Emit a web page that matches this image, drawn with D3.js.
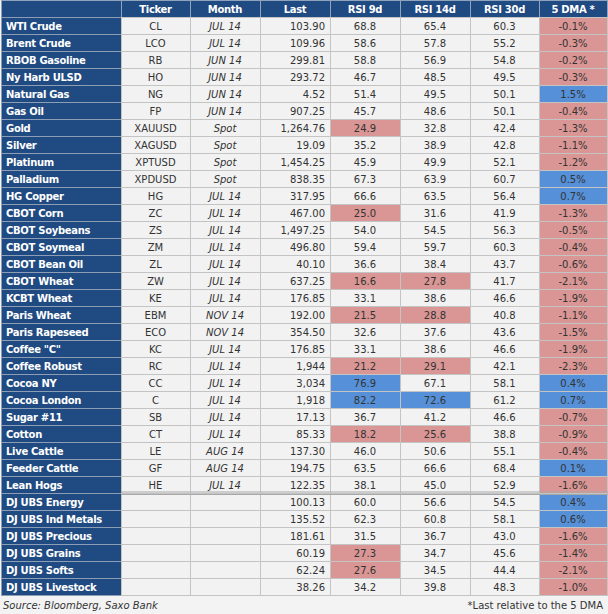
<!DOCTYPE html>
<html><head><meta charset="utf-8">
<script src="https://cdn.jsdelivr.net/npm/d3@7/dist/d3.min.js"></script>
<style>
html,body{margin:0;padding:0;background:#f3f3f3;}
svg{display:block;}
text{font-family:"DejaVu Sans",Verdana,sans-serif;}
</style></head><body>
<script>
const headers = ["", "Ticker", "Month", "Last", "RSI 9d", "RSI 14d", "RSI 30d", "5 DMA *"];
const names = ["WTI Crude","Brent Crude","RBOB Gasoline","Ny Harb ULSD","Natural Gas","Gas Oil","Gold","Silver","Platinum","Palladium","HG Copper","CBOT Corn","CBOT Soybeans","CBOT Soymeal","CBOT Bean Oil","CBOT Wheat","KCBT Wheat","Paris Wheat","Paris Rapeseed","Coffee \"C\"","Coffee Robust","Cocoa NY","Cocoa London","Sugar #11","Cotton","Live Cattle","Feeder Cattle","Lean Hogs","DJ UBS Energy","DJ UBS Ind Metals","DJ UBS Precious","DJ UBS Grains","DJ UBS Softs","DJ UBS Livestock"];
const tickers = ["CL","LCO","RB","HO","NG","FP","XAUUSD","XAGUSD","XPTUSD","XPDUSD","HG","ZC","ZS","ZM","ZL","ZW","KE","EBM","ECO","KC","RC","CC","C","SB","CT","LE","GF","HE","","","","","",""];
const months = ["JUL 14","JUL 14","JUN 14","JUN 14","JUN 14","JUN 14","Spot","Spot","Spot","Spot","JUL 14","JUL 14","JUL 14","JUL 14","JUL 14","JUL 14","JUL 14","NOV 14","NOV 14","JUL 14","JUL 14","JUL 14","JUL 14","JUL 14","JUL 14","AUG 14","AUG 14","JUL 14","","","","","",""];
const last = [103.90,109.96,299.81,293.72,4.52,907.25,1264.76,19.09,1454.25,838.35,317.95,467.00,1497.25,496.80,40.10,637.25,176.85,192.00,354.50,176.85,1944,3034,1918,17.13,85.33,137.30,194.75,122.35,100.13,135.52,181.61,60.19,62.24,38.26];
const lastDecimals = [2,2,2,2,2,2,2,2,2,2,2,2,2,2,2,2,2,2,2,2,0,0,0,2,2,2,2,2,2,2,2,2,2,2];
const rsi9 = [68.8,58.6,58.8,46.7,51.4,45.7,24.9,35.2,45.9,67.3,66.6,25.0,54.0,59.4,36.6,16.6,33.1,21.5,32.6,33.1,21.2,76.9,82.2,36.7,18.2,46.0,63.5,38.1,60.0,62.3,31.5,27.3,27.6,34.2];
const rsi14 = [65.4,57.8,56.9,48.5,49.5,48.6,32.8,38.9,49.9,63.9,63.5,31.6,54.5,59.7,38.4,27.8,38.6,28.8,37.6,38.6,29.1,67.1,72.6,41.2,25.6,50.6,66.6,45.0,56.6,60.8,36.7,34.7,34.5,39.8];
const rsi30 = [60.3,55.2,54.8,49.5,50.1,50.1,42.4,42.8,52.1,60.7,56.4,41.9,56.3,60.3,43.7,41.7,46.6,40.8,43.6,46.6,42.1,58.1,61.2,46.6,38.8,55.1,68.4,52.9,54.5,58.1,43.0,45.6,44.4,48.3];
const dma = [-0.1,-0.3,-0.2,-0.3,1.5,-0.4,-1.3,-1.1,-1.2,0.5,0.7,-1.3,-0.5,-0.4,-0.6,-2.1,-1.9,-1.1,-1.5,-1.9,-2.3,0.4,0.7,-0.7,-0.9,-0.4,0.1,-1.6,0.4,0.6,-1.6,-1.4,-2.1,-1.0];
const footLeft = "Source: Bloomberg, Saxo Bank";
const footRight = "*Last relative to the 5 DMA";

const W = 608, H = 614;
const NAVY = "#1f4a82", CELL = "#f2f2f2", RED = "#d99694", BLUE = "#5590d8", GRID = "#c4c4c4";
const FS = 10;
const edges = [1, 121, 190, 260, 330, 400, 470, 539, 607];
const svg = d3.select("body").append("svg").attr("width", W).attr("height", H);

const x = d3.scaleOrdinal().domain(d3.range(8)).range(edges.slice(0, 8));
const cw = i => edges[i + 1] - edges[i];
const y = d3.scaleBand().domain(d3.range(names.length)).range([17, 17 + 17 * names.length]).padding(0);
const rh = y.bandwidth();

const hy = s => s.replace(/\u2212/g, "-");
const rsiColor = v => v < 30 ? RED : (v > 70 ? BLUE : CELL);
const dmaColor = v => v < 0 ? RED : BLUE;
const fmtRSI = d3.format(".1f");
const fmtDMA = v => hy(d3.format(".1f")(v)) + "%";

const rows = names.map((n, i) => [
  {t: n, fill: NAVY, color: "#fff", bold: true, align: "start"},
  {t: tickers[i], fill: CELL, color: "#333", align: "middle"},
  {t: months[i], fill: CELL, color: "#333", italic: true, align: "middle"},
  {t: d3.format("," + "." + lastDecimals[i] + "f")(last[i]), fill: CELL, color: "#333", align: "end"},
  {t: fmtRSI(rsi9[i]), fill: rsiColor(rsi9[i]), color: "#333", align: "middle"},
  {t: fmtRSI(rsi14[i]), fill: rsiColor(rsi14[i]), color: "#333", align: "middle"},
  {t: fmtRSI(rsi30[i]), fill: rsiColor(rsi30[i]), color: "#333", align: "middle"},
  {t: fmtDMA(dma[i]), fill: dmaColor(dma[i]), color: "#333", align: "middle"}
]);

// header
const hg = svg.append("g");
hg.selectAll("rect").data(headers).join("rect")
  .attr("x", (d, i) => x(i) + 0.5).attr("y", 0.5)
  .attr("width", (d, i) => cw(i)).attr("height", 17)
  .attr("fill", NAVY).attr("stroke", "#8fa3bd").attr("stroke-width", 1);
hg.selectAll("text").data(headers).join("text")
  .attr("x", (d, i) => x(i) + cw(i) / 2).attr("y", 12.5)
  .attr("text-anchor", "middle").attr("fill", "#fff")
  .attr("font-weight", "bold").attr("font-size", FS).attr("letter-spacing", -0.3).text(d => d);

// body
const rg = svg.append("g").selectAll("g").data(rows).join("g")
  .attr("transform", (d, i) => `translate(0,${y(i)})`);
rg.selectAll("rect").data(d => d).join("rect")
  .attr("x", (d, i) => x(i) + 0.5).attr("y", 0.5)
  .attr("width", (d, i) => cw(i)).attr("height", rh)
  .attr("fill", d => d.fill)
  .attr("stroke", (d, i) => i === 0 ? "#8c9db5" : GRID).attr("stroke-width", 1);
rg.selectAll("text").data(d => d).join("text")
  .attr("x", (d, i) => d.align === "start" ? x(i) + 5 : d.align === "end" ? x(i) + cw(i) - 5 : x(i) + cw(i) / 2)
  .attr("y", rh / 2 + 4.5)
  .attr("text-anchor", d => d.align)
  .attr("fill", d => d.color)
  .attr("font-weight", d => d.bold ? "bold" : "normal")
  .attr("font-style", d => d.italic ? "italic" : "normal")
  .attr("font-size", FS)
  .attr("letter-spacing", d => d.bold ? -0.3 : 0)
  .text(d => d.t);

// double separator between Lean Hogs and indices
const sepY = y(names.indexOf("DJ UBS Energy"));
svg.append("line").attr("x1", edges[1]).attr("x2", edges[8] + 1)
  .attr("y1", sepY - 1).attr("y2", sepY - 1).attr("stroke", "#a8a8a8").attr("stroke-width", 1);
svg.append("line").attr("x1", edges[1]).attr("x2", edges[8] + 1)
  .attr("y1", sepY + 1.5).attr("y2", sepY + 1.5).attr("stroke", "#a8a8a8").attr("stroke-width", 1);

// footer
const fy = y.range()[1] + 14;
svg.append("text").attr("x", 3).attr("y", fy).attr("font-size", 10).attr("font-style", "italic")
  .attr("fill", "#333").text(footLeft);
svg.append("text").attr("x", 603).attr("y", fy).attr("font-size", 10).attr("text-anchor", "end")
  .attr("fill", "#333").text(footRight);
</script>
</body></html>
